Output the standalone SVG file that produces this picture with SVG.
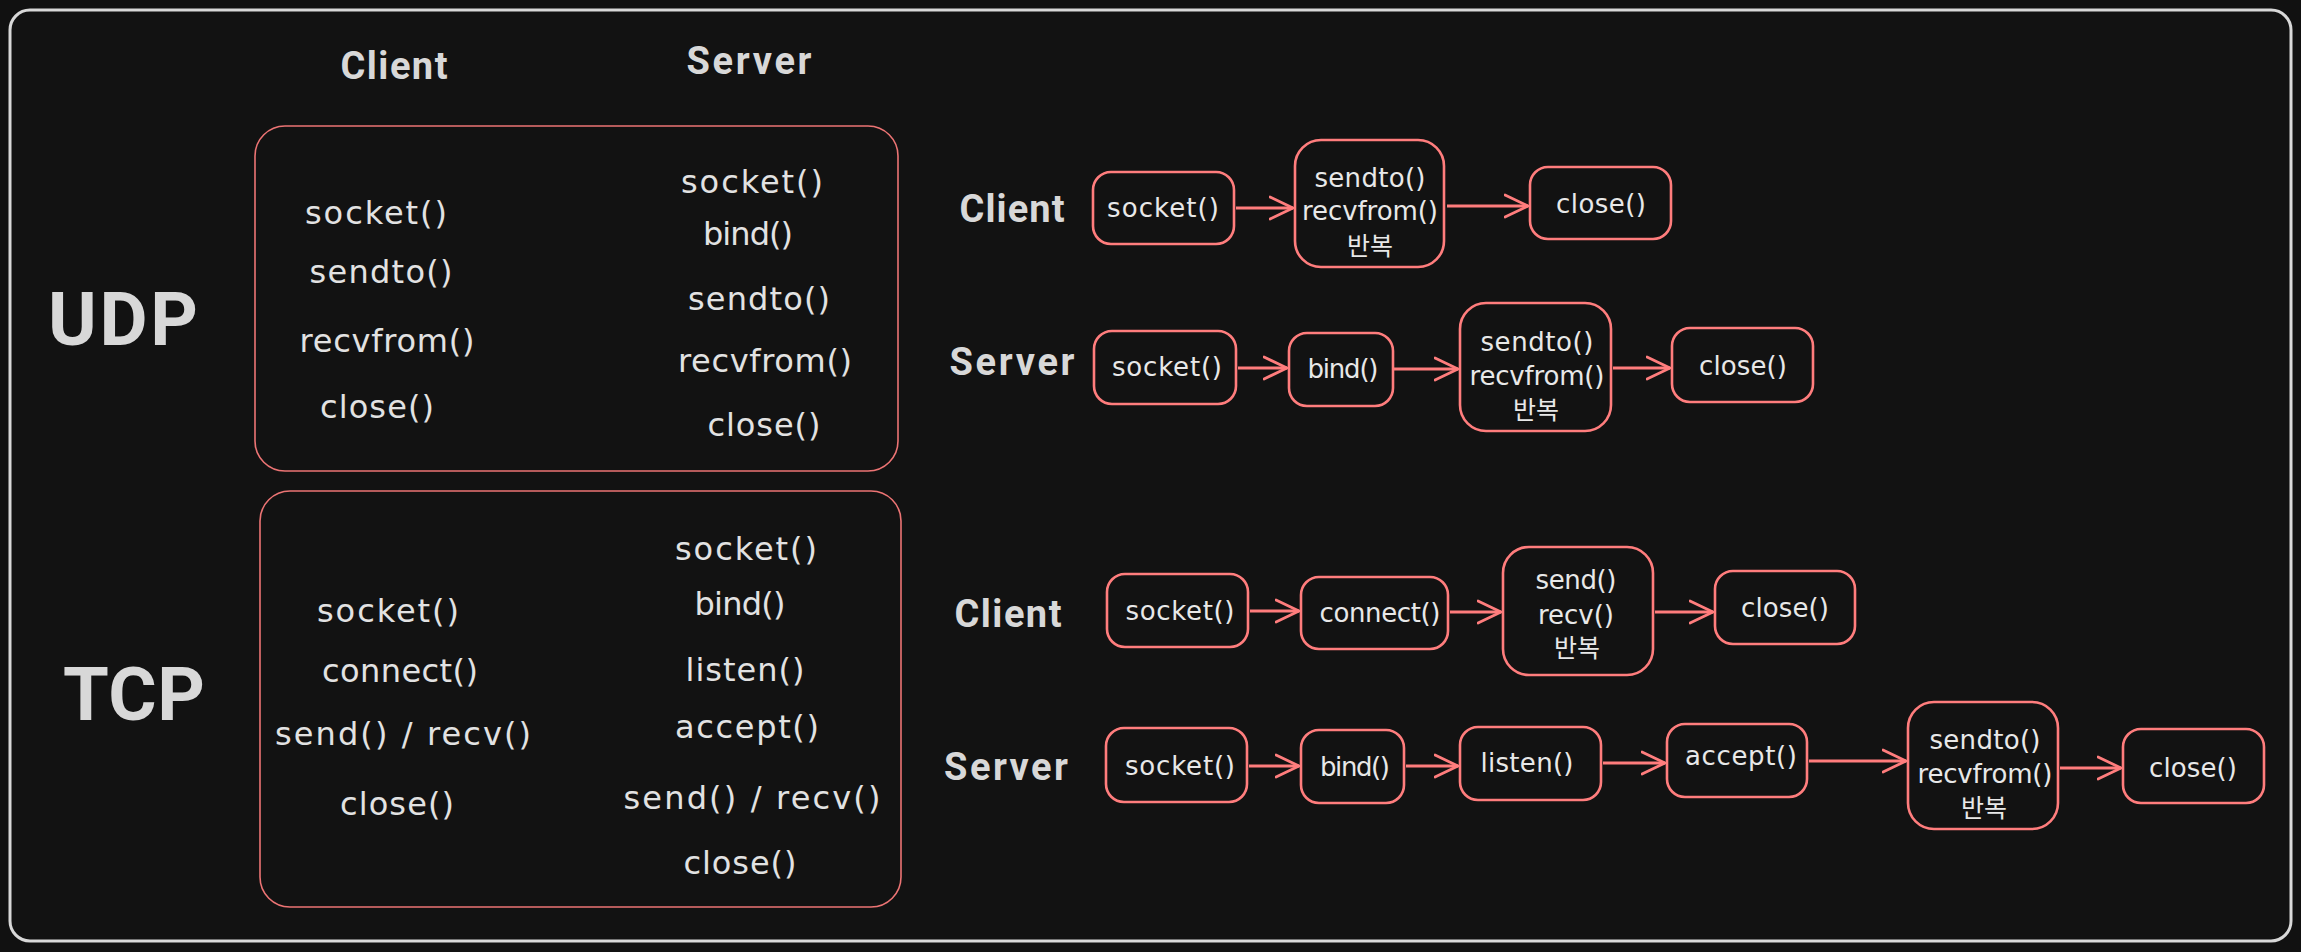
<svg xmlns="http://www.w3.org/2000/svg" width="2301" height="952" viewBox="0 0 2301 952">
<style>
.bx{fill:#121212;stroke:#ff7d7d;stroke-width:2.6}
.ct{fill:none;stroke:#ec7474;stroke-width:1.6}
.t{font-family:"DejaVu Sans","Liberation Sans",sans-serif;font-size:26px;fill:#e8e8e8;text-anchor:middle}
.tc{font-size:32px;fill:#e2e2e2}
.kr{font-family:"Noto Sans CJK KR","Noto Sans",sans-serif;font-size:25px;fill:#e8e8e8;text-anchor:middle}
.h{font-family:Roboto,"Liberation Sans",sans-serif;font-weight:700;font-size:38px;fill:#d8d8d8;text-anchor:middle}
.big{font-size:74px}
.cn line{stroke:#ff7d7d;stroke-width:2.8;fill:none;marker-end:url(#ah)}
</style>
<defs>
<marker id="ah" viewBox="0 0 26 26" refX="24" refY="13" markerWidth="26" markerHeight="26" markerUnits="userSpaceOnUse" orient="auto">
<path d="M1,2 L24,13 L1,24" fill="none" stroke="#ff7d7d" stroke-width="2.8" stroke-linecap="round" stroke-linejoin="round"/>
</marker>
</defs>
<rect x="0" y="0" width="2301" height="952" fill="#111111"/>
<rect id="frame" x="10" y="10" width="2281" height="931" rx="20" fill="#121212" stroke="#d8d8d8" stroke-width="3"/>

<g id="headers">
<text class="h" x="394" y="79" textLength="107">Client</text>
<text class="h" x="749" y="74" textLength="125">Server</text>
<text class="h big" x="123" y="345" textLength="150">UDP</text>
<text class="h big" x="134" y="720" textLength="142">TCP</text>
</g>

<g id="udp-summary">
<rect class="ct" x="255" y="126" width="643" height="345" rx="30"/>
<text class="t tc" x="376" y="224" textLength="142">socket()</text>
<text class="t tc" x="381" y="283" textLength="143">sendto()</text>
<text class="t tc" x="387" y="352" textLength="175">recvfrom()</text>
<text class="t tc" x="377" y="418" textLength="114">close()</text>
<text class="t tc" x="752" y="193" textLength="142">socket()</text>
<text class="t tc" x="748" y="245" textLength="90">bind()</text>
<text class="t tc" x="759" y="310" textLength="142">sendto()</text>
<text class="t tc" x="765" y="372" textLength="174">recvfrom()</text>
<text class="t tc" x="764" y="436" textLength="113">close()</text>
</g>

<g id="tcp-summary">
<rect class="ct" x="260" y="491" width="641" height="416" rx="30"/>
<text class="t tc" x="388" y="622" textLength="142">socket()</text>
<text class="t tc" x="400" y="682" textLength="156">connect()</text>
<text class="t tc" x="403" y="745" textLength="256">send() / recv()</text>
<text class="t tc" x="397" y="815" textLength="114">close()</text>
<text class="t tc" x="746" y="560" textLength="142">socket()</text>
<text class="t tc" x="740" y="615" textLength="91">bind()</text>
<text class="t tc" x="745" y="681" textLength="119">listen()</text>
<text class="t tc" x="747" y="738" textLength="144">accept()</text>
<text class="t tc" x="752" y="809" textLength="257">send() / recv()</text>
<text class="t tc" x="740" y="874" textLength="113">close()</text>
</g>

<g id="row-labels">
<text class="h" x="1012" y="222" textLength="105">Client</text>
<text class="h" x="1012" y="375" textLength="125">Server</text>
<text class="h" x="1008" y="627" textLength="107">Client</text>
<text class="h" x="1006" y="780" textLength="124">Server</text>
</g>

<g id="connectors" class="cn">
<line x1="1236" y1="208" x2="1293" y2="208"/>
<line x1="1447" y1="206" x2="1528" y2="206"/>
<line x1="1238" y1="368" x2="1287" y2="368"/>
<line x1="1394" y1="369" x2="1458" y2="369"/>
<line x1="1613" y1="368" x2="1670" y2="368"/>
<line x1="1250" y1="611" x2="1299" y2="611"/>
<line x1="1450" y1="612" x2="1501" y2="612"/>
<line x1="1655" y1="612" x2="1713" y2="612"/>
<line x1="1249" y1="766" x2="1299" y2="766"/>
<line x1="1406" y1="766" x2="1458" y2="766"/>
<line x1="1603" y1="763" x2="1665" y2="763"/>
<line x1="1809" y1="761" x2="1906" y2="761"/>
<line x1="2060" y1="768" x2="2121" y2="768"/>
</g>

<g id="udp-c-socket"><rect class="bx" x="1093" y="172" width="141" height="72" rx="18"/><text class="t" x="1163" y="217" textLength="112">socket()</text></g>
<g id="udp-c-loop"><rect class="bx" x="1295" y="140" width="149" height="127" rx="26"/><text class="t" x="1370" y="187" textLength="111">sendto()</text><text class="t" x="1370" y="220" textLength="136">recvfrom()</text><text class="kr" x="1370" y="255">반복</text></g>
<g id="udp-c-close"><rect class="bx" x="1530" y="167" width="141" height="72" rx="18"/><text class="t" x="1601" y="213" textLength="90">close()</text></g>

<g id="udp-s-socket"><rect class="bx" x="1094" y="331" width="142" height="73" rx="18"/><text class="t" x="1167" y="376" textLength="110">socket()</text></g>
<g id="udp-s-bind"><rect class="bx" x="1289" y="333" width="104" height="73" rx="18"/><text class="t" x="1343" y="378" textLength="71">bind()</text></g>
<g id="udp-s-loop"><rect class="bx" x="1460" y="303" width="151" height="128" rx="26"/><text class="t" x="1537" y="351" textLength="113">sendto()</text><text class="t" x="1537" y="385" textLength="135">recvfrom()</text><text class="kr" x="1536" y="419">반복</text></g>
<g id="udp-s-close"><rect class="bx" x="1672" y="328" width="141" height="74" rx="18"/><text class="t" x="1743" y="375" textLength="88">close()</text></g>

<g id="tcp-c-socket"><rect class="bx" x="1107" y="574" width="141" height="73" rx="18"/><text class="t" x="1180" y="620" textLength="109">socket()</text></g>
<g id="tcp-c-connect"><rect class="bx" x="1301" y="577" width="147" height="72" rx="18"/><text class="t" x="1380" y="622" textLength="121">connect()</text></g>
<g id="tcp-c-loop"><rect class="bx" x="1503" y="547" width="150" height="128" rx="26"/><text class="t" x="1576" y="589" textLength="81">send()</text><text class="t" x="1576" y="624" textLength="76">recv()</text><text class="kr" x="1577" y="657">반복</text></g>
<g id="tcp-c-close"><rect class="bx" x="1715" y="571" width="140" height="73" rx="18"/><text class="t" x="1785" y="617" textLength="88">close()</text></g>

<g id="tcp-s-socket"><rect class="bx" x="1106" y="728" width="141" height="74" rx="18"/><text class="t" x="1180" y="775" textLength="110">socket()</text></g>
<g id="tcp-s-bind"><rect class="bx" x="1301" y="730" width="103" height="73" rx="18"/><text class="t" x="1355" y="776" textLength="70">bind()</text></g>
<g id="tcp-s-listen"><rect class="bx" x="1460" y="727" width="141" height="73" rx="18"/><text class="t" x="1527" y="772" textLength="93">listen()</text></g>
<g id="tcp-s-accept"><rect class="bx" x="1667" y="724" width="140" height="73" rx="18"/><text class="t" x="1741" y="765" textLength="112">accept()</text></g>
<g id="tcp-s-loop"><rect class="bx" x="1908" y="702" width="150" height="127" rx="26"/><text class="t" x="1985" y="749" textLength="111">sendto()</text><text class="t" x="1985" y="783" textLength="135">recvfrom()</text><text class="kr" x="1984" y="817">반복</text></g>
<g id="tcp-s-close"><rect class="bx" x="2123" y="729" width="141" height="74" rx="18"/><text class="t" x="2193" y="777" textLength="88">close()</text></g>
</svg>
